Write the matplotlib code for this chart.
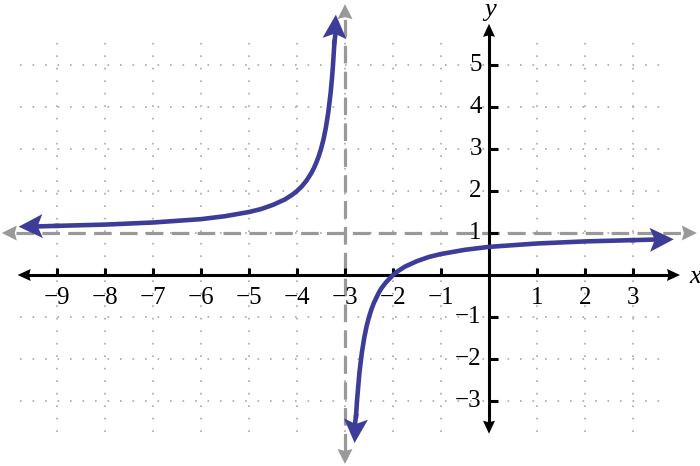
import numpy as np
import matplotlib
matplotlib.use('Agg')
import matplotlib.pyplot as plt
from matplotlib.patches import Polygon

plt.rcParams['font.family'] = 'serif'
plt.rcParams['font.serif'] = ['Liberation Serif', 'DejaVu Serif']

# curve points (two branches around x = -3)
left_x = [-9.8, -9, -8, -7, -6, -5.5, -5, -4.75, -4.5, -4.25, -4.1, -4, -3.9, -3.8,
          -3.7, -3.65, -3.6, -3.55, -3.5, -3.45, -3.4, -3.35, -3.3, -3.27, -3.25,
          -3.22, -3.19]
left_y = [1.15, 1.17, 1.2, 1.25, 1.33, 1.4, 1.5, 1.57, 1.67, 1.8, 1.91, 2.0, 2.11, 2.25,
          2.43, 2.54, 2.67, 2.82, 3.0, 3.22, 3.5, 3.86, 4.33, 4.7, 5.0,
          5.55, 6.2]
right_x = [-2.8, -2.77, -2.75, -2.7, -2.65, -2.6, -2.55, -2.5, -2.45, -2.4, -2.3,
           -2.25, -2.15, -2, -1.9, -1.75, -1.5, -1.25, -1, -0.5, 0, 1, 2, 3, 3.85]
right_y = [-4.0, -3.35, -3.0, -2.33, -1.86, -1.5, -1.22, -1.0, -0.82, -0.67, -0.43,
           -0.33, -0.18, 0, 0.09, 0.2, 0.33, 0.43, 0.5, 0.6, 0.67, 0.75, 0.8, 0.83, 0.85]

x_ticks = [-9, -8, -7, -6, -5, -4, -3, -2, -1, 1, 2, 3]
y_ticks = [-3, -2, -1, 1, 2, 3, 4, 5]
grid_x = [-9, -8, -7, -6, -5, -4, -3, -2, -1, 0, 1, 2, 3]
grid_y = [-3, -2, -1, 0, 1, 2, 3, 4, 5]
asym_x = -3
asym_y = 1

BLUE = '#3d3d99'
GRAY = '#999999'
SX, SY = 48.0, 42.0  # pixels per unit

fig = plt.figure(figsize=(7, 4.66), dpi=100)
ax = fig.add_axes([0, 0, 1, 1])
ax.set_xlim(-10.1875, 4.396)
ax.set_ylim(-4.548, 6.548)
ax.axis('off')


def head(tip, frm, color, length, width, notch=0.0, z=5):
    # arrowhead drawn in pixel space, converted back to data units
    dx = (tip[0] - frm[0]) * SX
    dy = (tip[1] - frm[1]) * SY
    n = np.hypot(dx, dy)
    ux, uy = dx / n, dy / n
    px, py = -uy, ux
    pts_px = [(0, 0),
              (-length * ux + width / 2 * px, -length * uy + width / 2 * py),
              (-(length - notch) * ux, -(length - notch) * uy),
              (-length * ux - width / 2 * px, -length * uy - width / 2 * py)]
    pts = [(tip[0] + a / SX, tip[1] + b / SY) for a, b in pts_px]
    ax.add_patch(Polygon(pts, closed=True, color=color, lw=0, zorder=z))


# dotted grid
for gx in grid_x:
    ax.plot([gx, gx], [-3.74, 5.74], color='#a8a8a8', lw=1.2,
            ls=(0, (1, 6.5)), zorder=1)
for gy in grid_y:
    ax.plot([-9.77, 3.75], [gy, gy], color='#a8a8a8', lw=1.2,
            ls=(0, (1, 6.5)), zorder=1)

# axes
ax.plot([-9.6, 3.8], [0, 0], color='black', lw=2.2, zorder=3)
ax.plot([0, 0], [-3.55, 5.75], color='black', lw=2.2, zorder=3)
head((-9.82, 0), (0, 0), 'black', 13, 12, 1.5)
head((3.98, 0), (0, 0), 'black', 13, 12, 1.5)
head((0, 5.98), (0, 0), 'black', 13, 12, 1.5)
head((0, -3.78), (0, 0), 'black', 13, 12, 1.5)
for t in x_ticks:
    ax.plot([t, t], [0, 0.17], color='black', lw=2.2, solid_capstyle='butt', zorder=3)
    ax.text(t, -0.55, str(t).replace('-', '\u2212'), ha='center', va='center',
            fontsize=18)
for t in y_ticks:
    ax.plot([0, 0.19], [t, t], color='black', lw=2.2, solid_capstyle='butt', zorder=3)
    ax.text(-0.15, t, str(t).replace('-', '\u2212'), ha='right', va='center',
            fontsize=18)
ax.text(4.29, -0.05, 'x', ha='center', va='center', fontsize=19, style='italic')
ax.text(0.03, 6.3, 'y', ha='center', va='center', fontsize=19, style='italic')

# asymptotes
ax.plot([-9.85, 4.05], [asym_y, asym_y], color=GRAY, lw=2.3,
        ls=(0, (5.5, 2.6)), zorder=2)
ax.plot([asym_x, asym_x], [-4.2, 6.2], color=GRAY, lw=2.3,
        ls=(0, (5.5, 2.6)), zorder=2)
head((-10.15, asym_y), (0, asym_y), GRAY, 15, 15, 2)
head((4.33, asym_y), (0, asym_y), GRAY, 15, 15, 2)
head((asym_x, 6.45), (asym_x, 0), GRAY, 15, 15, 2)
head((asym_x, -4.5), (asym_x, 0), GRAY, 15, 15, 2)

# curve
ax.plot(left_x[1:-1], left_y[1:-1], color=BLUE, lw=3.3, zorder=4)
ax.plot(right_x[1:-1], right_y[1:-1], color=BLUE, lw=3.3, zorder=4)
head((left_x[0], left_y[0]), (left_x[2], left_y[2]), BLUE, 24, 24, 5)
head((left_x[-1], left_y[-1]), (left_x[-3], left_y[-3]), BLUE, 24, 24, 5)
head((right_x[0], right_y[0]), (right_x[2], right_y[2]), BLUE, 24, 24, 5)
head((right_x[-1], right_y[-1]), (right_x[-3], right_y[-3]), BLUE, 24, 24, 5)
ax.plot([left_x[-2], left_x[-1] + 0.01], [left_y[-2], left_y[-1] - 0.3],
        color=BLUE, lw=3.3, zorder=4)
ax.plot([right_x[0] - 0.01, right_x[1]], [right_y[0] + 0.3, right_y[1]],
        color=BLUE, lw=3.3, zorder=4)
ax.plot([right_x[-2], right_x[-1] - 0.2], [right_y[-2], right_y[-1]],
        color=BLUE, lw=3.3, zorder=4)
ax.plot([left_x[0] + 0.2, left_x[1]], [left_y[0], left_y[1]],
        color=BLUE, lw=3.3, zorder=4)

fig.savefig('out.png', dpi=100)
